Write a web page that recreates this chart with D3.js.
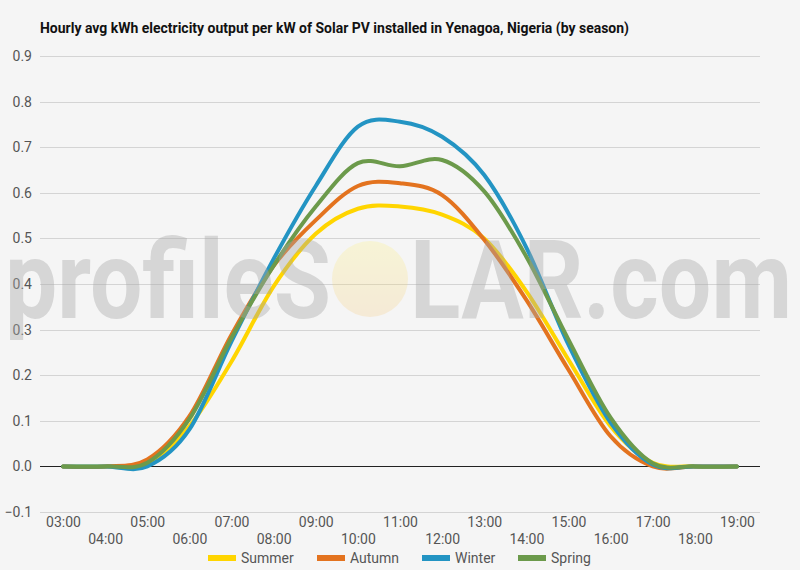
<!DOCTYPE html>
<html>
<head>
<meta charset="utf-8">
<script src="https://cdn.jsdelivr.net/npm/d3@7"></script>
<style>
  body { margin: 0; background: #f5f5f5; }
  svg { display: block; font-family: Roboto, "Liberation Sans", sans-serif; }
</style>
</head>
<body>
<div id="chart"></div>
<script>
/**
 * Data
 */
const hours = ["03:00","04:00","05:00","06:00","07:00","08:00","09:00","10:00","11:00",
               "12:00","13:00","14:00","15:00","16:00","17:00","18:00","19:00"]
const summer = [0, 0, 0.003, 0.088, 0.23, 0.395, 0.51, 0.565, 0.57, 0.552, 0.50, 0.384, 0.234, 0.088, 0.008, 0, 0]
const autumn = [0, 0, 0.015, 0.11, 0.289, 0.44, 0.54, 0.615, 0.621, 0.595, 0.497, 0.365, 0.212, 0.066, 0, 0, 0]
const winter = [0, 0, 0, 0.081, 0.274, 0.455, 0.615, 0.745, 0.756, 0.723, 0.639, 0.48, 0.267, 0.096, 0.004, 0, 0]
const spring = [0, 0, 0.008, 0.104, 0.282, 0.44, 0.57, 0.665, 0.658, 0.672, 0.603, 0.46, 0.278, 0.107, 0.007, 0, 0]
const seriesNames = ["Summer", "Autumn", "Winter", "Spring"]
const yTicks = [-0.1, 0, 0.1, 0.2, 0.3, 0.4, 0.5, 0.6, 0.7, 0.8, 0.9]
const title = "Hourly avg kWh electricity output per kW of Solar PV installed in Yenagoa, Nigeria (by season)"

const seriesValues = [summer, autumn, winter, spring]
const colors = ["#FFD500", "#E3731F", "#2394C3", "#6C9A4B"]

/**
 * Sizes
 */
const width = 800, height = 570
const plot = { left: 42, right: 758, top: 56, bottom: 512 }

const svg = d3.select("#chart")
    .append("svg")
        .attr("width", width)
        .attr("height", height)

svg.append("rect")
    .attr("width", width)
    .attr("height", height)
    .attr("fill", "#f5f5f5")

// Scales
const x = d3.scalePoint()
    .domain(hours)
    .range([plot.left, plot.right])
    .padding(0.5)

const y = d3.scaleLinear()
    .domain([-0.1, 0.9])
    .range([plot.bottom, plot.top])

// Gridlines
svg.append("g")
    .selectAll("line")
    .data(yTicks)
    .enter()
    .append("line")
        .attr("x1", plot.left - 2)
        .attr("x2", plot.right + 2)
        .attr("y1", d => Math.round(y(d)) + 0.5)
        .attr("y2", d => Math.round(y(d)) + 0.5)
        .attr("stroke", d => d === 0 ? "#222" : "#d4d4d4")
        .attr("stroke-width", 1)

// Y axis labels
const yAxis = svg.append("g")
    .attr("transform", "translate(" + (plot.left - 10) + ",0)")
    .call(d3.axisLeft(y).tickValues(yTicks).tickFormat(d3.format(".1f")).tickSize(0))
yAxis.select(".domain").remove()
yAxis.selectAll("text")
    .attr("x", 0)
    .attr("font-size", 14)
    .attr("font-family", "Roboto, sans-serif")
    .attr("fill", "#555")

// X axis labels (staggered)
const xAxis = svg.append("g")
    .attr("transform", "translate(0," + plot.bottom + ")")
    .call(d3.axisBottom(x).tickSize(0))
xAxis.select(".domain").remove()
xAxis.selectAll("text")
    .attr("y", (d, i) => i % 2 === 0 ? 5 : 22)
    .attr("dy", "0.71em")
    .attr("font-size", 14)
    .attr("font-family", "Roboto, sans-serif")
    .attr("fill", "#555")

// Lines
const line = d3.line()
    .x((d, i) => x(hours[i]))
    .y(d => y(d))
    .curve(d3.curveCardinal.tension(0))

svg.append("g")
    .selectAll("path")
    .data(seriesValues)
    .enter()
    .append("path")
        .attr("d", d => line(d))
        .attr("fill", "none")
        .attr("stroke", (d, i) => colors[i])
        .attr("stroke-width", 4)
        .attr("stroke-linejoin", "round")
        .attr("stroke-linecap", "round")

// Watermark (sits over the lines, semi transparent)
const wm = svg.append("g").attr("opacity", 0.4)
const grad = svg.append("defs").append("linearGradient")
    .attr("id", "sun")
    .attr("x1", 0).attr("y1", 0).attr("x2", 0).attr("y2", 1)
grad.append("stop").attr("offset", "0%").attr("stop-color", "#fff36a")
grad.append("stop").attr("offset", "100%").attr("stop-color", "#f5c46a")
wm.append("circle")
    .attr("cx", 370)
    .attr("cy", 279)
    .attr("r", 38)
    .attr("fill", "url(#sun)")
    .attr("opacity", 0.55)
wm.append("text")
    .attr("x", 5)
    .attr("y", 318)
    .attr("font-size", 110)
    .attr("font-weight", "bold")
    .attr("font-family", "Roboto, sans-serif")
    .attr("textLength", 326)
    .attr("lengthAdjust", "spacingAndGlyphs")
    .attr("fill", "#a8a8a8")
    .text("profileS")
wm.append("text")
    .attr("x", 410)
    .attr("y", 318)
    .attr("font-size", 110)
    .attr("font-weight", "bold")
    .attr("font-family", "Roboto, sans-serif")
    .attr("textLength", 382)
    .attr("lengthAdjust", "spacingAndGlyphs")
    .attr("fill", "#a8a8a8")
    .text("LAR.com")

// Title
svg.append("text")
    .attr("x", 40)
    .attr("y", 33)
    .attr("font-size", 14)
    .attr("font-weight", "bold")
    .attr("font-family", "Roboto, sans-serif")
    .attr("textLength", 589)
    .attr("lengthAdjust", "spacingAndGlyphs")
    .attr("fill", "#111")
    .text(title)

// Legend
const legendX = [208, 317, 422, 518]
const legend = svg.append("g")
    .selectAll("g")
    .data(seriesNames)
    .enter()
    .append("g")
        .attr("transform", (d, i) => "translate(" + legendX[i] + ",558)")
legend.append("rect")
    .attr("x", 0)
    .attr("y", -3)
    .attr("width", 28)
    .attr("height", 6)
    .attr("fill", (d, i) => colors[i])
legend.append("text")
    .attr("x", 33)
    .attr("y", 5)
    .attr("font-size", 14)
    .attr("font-family", "Roboto, sans-serif")
    .attr("fill", "#555")
    .text(d => d)
</script>
</body>
</html>
